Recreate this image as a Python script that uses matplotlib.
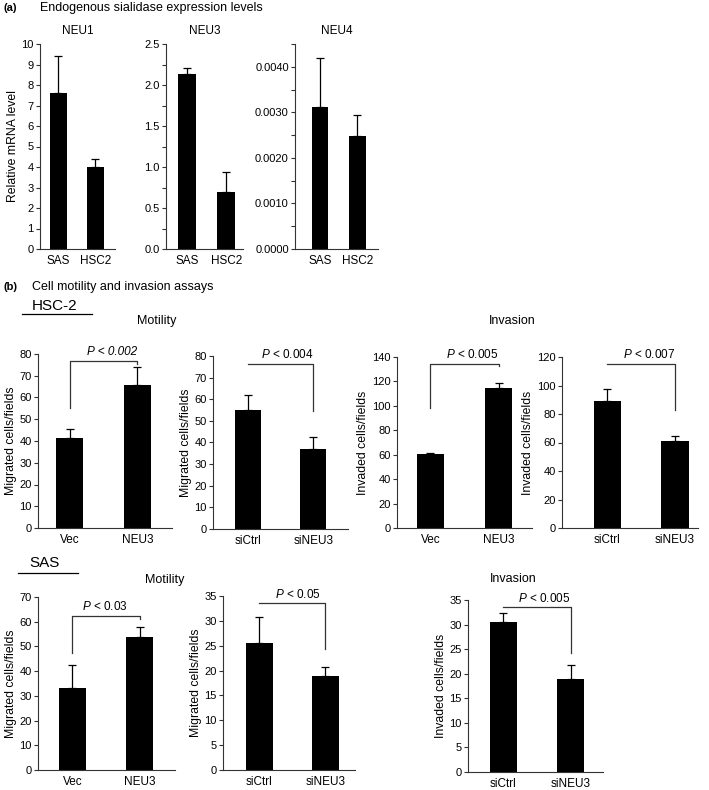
import matplotlib
matplotlib.use('Agg')
import matplotlib.pyplot as plt
from matplotlib.lines import Line2D

plt.rcParams['font.family'] = ['Liberation Sans', 'DejaVu Sans']
plt.rcParams['mathtext.fontset'] = 'custom'
plt.rcParams['mathtext.it'] = 'Liberation Sans:italic'
plt.rcParams['mathtext.rm'] = 'Liberation Sans'

W, H = 709, 790

# (a) endogenous sialidase expression
cells_a = ['SAS', 'HSC2']
neu1 = [7.6, 4.0]
neu1_err = [1.8, 0.4]
neu3 = [2.13, 0.70]
neu3_err = [0.08, 0.24]
neu4 = [0.00312, 0.00248]
neu4_err = [0.00108, 0.00047]

# (b) motility / invasion
ovx = ['Vec', 'NEU3']
kd = ['siCtrl', 'siNEU3']
hsc_mot_ovx = [41.2, 65.8]
hsc_mot_ovx_err = [4.5, 8.1]
hsc_mot_kd = [55.0, 37.0]
hsc_mot_kd_err = [6.8, 5.4]
hsc_inv_ovx = [60.3, 114.3]
hsc_inv_ovx_err = [1.5, 4.7]
hsc_inv_kd = [88.8, 60.9]
hsc_inv_kd_err = [8.7, 4.0]
sas_mot_ovx = [33.2, 53.9]
sas_mot_ovx_err = [9.4, 4.0]
sas_mot_kd = [25.6, 19.0]
sas_mot_kd_err = [5.1, 1.8]
sas_inv_kd = [30.6, 18.9]
sas_inv_kd_err = [1.7, 2.8]

pvals = ['P < 0.002', '$\\mathit{P}$ < 0.004', '$\\mathit{P}$ < 0.005', '$\\mathit{P}$ < 0.007',
         '$\\mathit{P}$ < 0.03', '$\\mathit{P}$ < 0.05', '$\\mathit{P}$ < 0.005']

fig = plt.figure(figsize=(W / 100, H / 100), dpi=100)


def px_axes(x0, x1, ytop, ybot):
    return fig.add_axes([x0 / W, 1 - ybot / H, (x1 - x0) / W, (ybot - ytop) / H])


def bars(ax, labels, vals, errs, width, xlim, ylim, ticks, ticklabels, ylabel=None):
    x = list(range(len(vals)))
    ax.bar(x, vals, width=width, color='black')
    ax.errorbar(x, vals, yerr=[[0] * len(errs), errs], fmt='none', ecolor='black',
                elinewidth=0.9, capsize=3, capthick=0.9)
    ax.set_xlim(*xlim)
    ax.set_ylim(*ylim)
    ax.set_xticks(x)
    ax.set_xticklabels(labels, fontsize=8.5)
    ax.set_yticks(ticks)
    ax.set_yticklabels(ticklabels, fontsize=8)
    ax.tick_params(axis='x', length=0, pad=4)
    ax.tick_params(axis='y', direction='out', length=3, width=0.8, pad=1.5, color='#333333')
    for s in ['top', 'right']:
        ax.spines[s].set_visible(False)
    for s in ['left', 'bottom']:
        ax.spines[s].set_linewidth(0.8)
        ax.spines[s].set_color('#333333')
    if ylabel:
        ax.set_ylabel(ylabel, fontsize=8.8, labelpad=2)


def bracket(ax, xl, xr, top, yl, yr, text, tx, italic=False):
    xs = [xl, xl, xr, xr]
    ys = [yl, top, top, yr]
    ax.plot(xs, ys, color='#333333', lw=0.9, clip_on=False)
    ax.annotate(text, xy=(tx, top), xytext=(0, 2), textcoords='offset points',
                ha='right', va='bottom', fontsize=8.5,
                fontstyle='italic' if italic else 'normal', annotation_clip=False)


# ---- (a)
ax = px_axes(40, 115, 44, 249)
bars(ax, cells_a, neu1, neu1_err, 0.45, (-0.49, 1.53), (0, 10), range(0, 11),
     [str(i) for i in range(0, 11)], 'Relative mRNA level')
ax.set_title('NEU1', fontsize=8.5, pad=7)

ax = px_axes(166, 243, 44, 249)
t = [i * 0.25 for i in range(11)]
bars(ax, cells_a, neu3, neu3_err, 0.45, (-0.54, 1.43), (0, 2.5), t,
     ['%.1f' % v if i % 2 == 0 else '' for i, v in enumerate(t)])
ax.set_title('NEU3', fontsize=8.5, pad=7)

ax = px_axes(295, 378, 44, 249)
t = [i * 0.0005 for i in range(10)]
bars(ax, cells_a, neu4, neu4_err, 0.45, (-0.67, 1.55), (0, 0.0045), t,
     ['%.4f' % v if i % 2 == 0 else '' for i, v in enumerate(t)])
ax.set_title('NEU4', fontsize=8.5, pad=7)

# ---- (b) HSC-2
ax = px_axes(38, 172, 354, 528)
bars(ax, ovx, hsc_mot_ovx, hsc_mot_ovx_err, 0.4, (-0.47, 1.51), (0, 80), range(0, 81, 10),
     [str(i) for i in range(0, 81, 10)], 'Migrated cells/fields')
bracket(ax, 0, 1, 76.9, 55.1, 75.4, pvals[0], 1.0, italic=True)

ax = px_axes(213, 348, 356, 529)
bars(ax, kd, hsc_mot_kd, hsc_mot_kd_err, 0.4, (-0.53, 1.53), (0, 80), range(0, 81, 10),
     [str(i) for i in range(0, 81, 10)], 'Migrated cells/fields')
bracket(ax, 0, 1, 76.3, 76.3, 54.6, pvals[1], 1.0)

ax = px_axes(397, 532, 357, 528)
bars(ax, ovx, hsc_inv_ovx, hsc_inv_ovx_err, 0.4, (-0.49, 1.49), (0, 140), range(0, 141, 20),
     [str(i) for i in range(0, 141, 20)], 'Invaded cells/fields')
bracket(ax, 0, 1, 134.6, 97.9, 132.5, pvals[2], 1.0)

ax = px_axes(562, 698, 357, 528)
bars(ax, kd, hsc_inv_kd, hsc_inv_kd_err, 0.4, (-0.67, 1.34), (0, 120), range(0, 121, 20),
     [str(i) for i in range(0, 121, 20)], 'Invaded cells/fields')
bracket(ax, 0, 1, 115.3, 115.3, 83.0, pvals[3], 1.0)

# ---- (b) SAS
ax = px_axes(38, 175, 597, 770)
bars(ax, ovx, sas_mot_ovx, sas_mot_ovx_err, 0.4, (-0.51, 1.52), (0, 70), range(0, 71, 10),
     [str(i) for i in range(0, 71, 10)], 'Migrated cells/fields')
bracket(ax, 0, 1, 62.4, 47.3, 61.0, pvals[4], 0.82)

ax = px_axes(223, 355, 596, 770)
bars(ax, kd, sas_mot_kd, sas_mot_kd_err, 0.4, (-0.55, 1.45), (0, 35), range(0, 36, 5),
     [str(i) for i in range(0, 36, 5)], 'Migrated cells/fields')
bracket(ax, 0, 1, 33.5, 33.5, 24.3, pvals[5], 0.93)

ax = px_axes(468, 603, 600, 772)
bars(ax, kd, sas_inv_kd, sas_inv_kd_err, 0.4, (-0.52, 1.48), (0, 35), range(0, 36, 5),
     [str(i) for i in range(0, 36, 5)], 'Invaded cells/fields')
bracket(ax, 0, 1, 33.5, 33.5, 24.3, pvals[6], 1.0)

# ---- headings
def ftext(x, y, s, **kw):
    fig.text(x / W, 1 - y / H, s, va='center', **kw)

ftext(3, 8, '(a)', fontsize=8, fontweight='bold')
ftext(40, 8, 'Endogenous sialidase expression levels', fontsize=9)
ftext(3, 287, '(b)', fontsize=8, fontweight='bold')
ftext(32, 287, 'Cell motility and invasion assays', fontsize=9)
ftext(32, 306, 'HSC-2', fontsize=11)
ftext(157, 321, 'Motility', fontsize=9, ha='center')
ftext(512, 321, 'Invasion', fontsize=9, ha='center')
ftext(29, 563, 'SAS', fontsize=11)
ftext(165, 580, 'Motility', fontsize=9, ha='center')
ftext(513, 579, 'Invasion', fontsize=9, ha='center')

fig.add_artist(Line2D([22 / W, 92 / W], [1 - 314 / H, 1 - 314 / H], color='black', lw=0.9))
fig.add_artist(Line2D([18 / W, 78 / W], [1 - 573 / H, 1 - 573 / H], color='black', lw=0.9))

fig.savefig('out.png', dpi=100)
